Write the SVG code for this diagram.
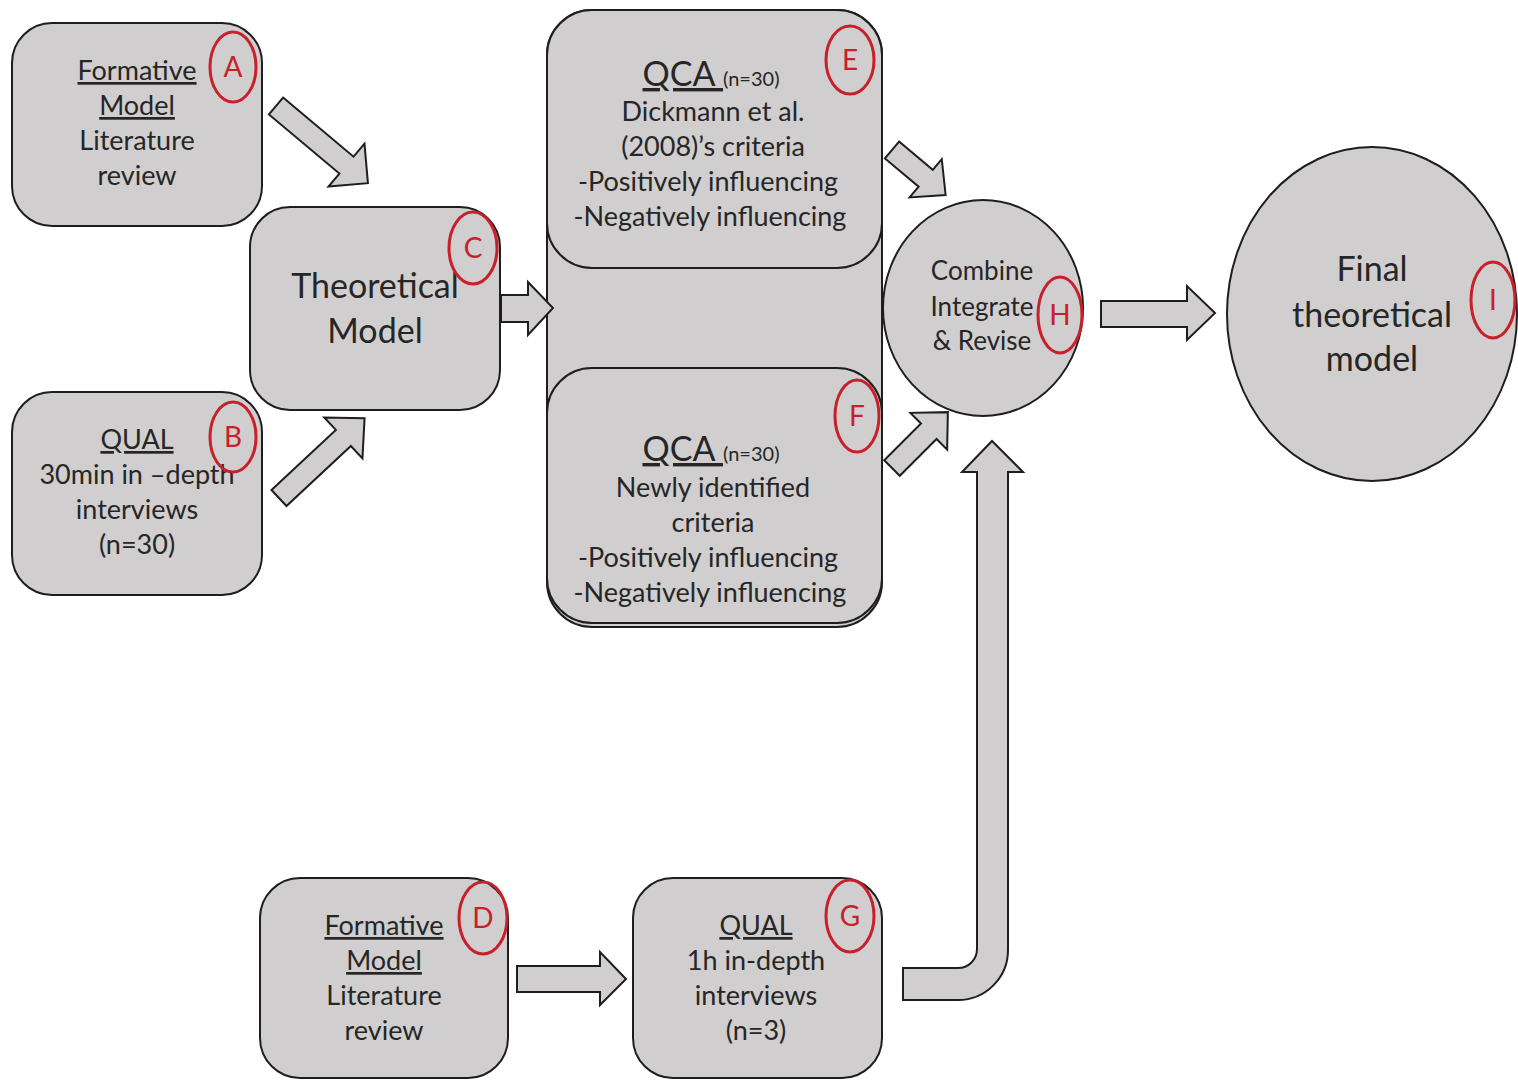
<svg xmlns="http://www.w3.org/2000/svg" width="1518" height="1080" viewBox="0 0 1518 1080">
<style>
.box{fill:#d0cece;stroke:#1e1e1e;stroke-width:2}
.arr{fill:#d0cece;stroke:#1e1e1e;stroke-width:2;stroke-linejoin:miter}
.lbl{fill:none;stroke:#c8202a;stroke-width:3}
.ltr{fill:#c8202a;font-family:Lato,"Liberation Sans",sans-serif;font-size:28px;text-anchor:middle}
.t{fill:#262626;font-family:Lato,"Liberation Sans",sans-serif;font-size:27px;text-anchor:middle}
.big{font-size:34px}
.sm{font-size:20px}
.u{text-decoration:underline}
</style>
<rect width="1518" height="1080" fill="#ffffff"/>
<g id="node-A">
<rect class="box" x="12" y="23" width="250" height="203" rx="40"/>
<text class="t"><tspan class="u" x="137" y="80">Formative</tspan><tspan class="u" x="137" y="115">Model</tspan><tspan x="137" y="150">Literature</tspan><tspan x="137" y="185">review</tspan></text>
<ellipse class="lbl" cx="233" cy="67" rx="23" ry="35"/><text class="ltr" x="233" y="77">A</text>
</g>
<g id="node-B">
<rect class="box" x="12" y="392" width="250" height="203" rx="40"/>
<text class="t"><tspan class="u" x="137" y="449">QUAL</tspan><tspan x="137" y="484">30min in –depth</tspan><tspan x="137" y="519">interviews</tspan><tspan x="137" y="554">(n=30)</tspan></text>
<ellipse class="lbl" cx="233" cy="437" rx="23" ry="35"/><text class="ltr" x="233" y="447">B</text>
</g>
<g id="node-C">
<rect class="box" x="250" y="207" width="250" height="203" rx="40"/>
<text class="t big"><tspan x="375" y="298">Theoretical</tspan><tspan x="375" y="343">Model</tspan></text>
<ellipse class="lbl" cx="473" cy="248" rx="24" ry="36"/><text class="ltr" x="473" y="258">C</text>
</g>
<g id="node-EF-frame">
<rect class="box" x="547" y="10" width="335" height="617" rx="45"/>
</g>
<g id="node-E">
<rect class="box" x="547" y="10" width="335" height="258" rx="45"/>
<text class="t" xml:space="preserve" x="711" y="86"><tspan class="big u">QCA </tspan><tspan class="sm">(n=30)</tspan></text>
<text class="t"><tspan x="713" y="121">Dickmann et al.</tspan><tspan x="713" y="156">(2008)’s criteria</tspan><tspan x="708" y="191">-Positively influencing</tspan><tspan x="710" y="226">-Negatively influencing</tspan></text>
<ellipse class="lbl" cx="850" cy="60" rx="24" ry="34"/><text class="ltr" x="850" y="70">E</text>
</g>
<g id="node-F">
<rect class="box" x="547" y="368" width="335" height="255" rx="45"/>
<text class="t" xml:space="preserve" x="711" y="461"><tspan class="big u">QCA </tspan><tspan class="sm">(n=30)</tspan></text>
<text class="t"><tspan x="713" y="497">Newly identified</tspan><tspan x="713" y="532">criteria</tspan><tspan x="708" y="567">-Positively influencing</tspan><tspan x="710" y="602">-Negatively influencing</tspan></text>
<ellipse class="lbl" cx="857" cy="416" rx="22" ry="36"/><text class="ltr" x="857" y="426">F</text>
</g>
<g id="node-H">
<ellipse class="box" cx="983" cy="308" rx="100" ry="108"/>
<text class="t" style="font-size:26px"><tspan x="982" y="280">Combine</tspan><tspan x="982" y="316">Integrate</tspan><tspan x="982" y="350">&amp; Revise</tspan></text>
<ellipse class="lbl" cx="1060" cy="315" rx="22" ry="38"/><text class="ltr" x="1060" y="325">H</text>
</g>
<g id="node-I">
<ellipse class="box" cx="1372" cy="314" rx="145" ry="167"/>
<text class="t big"><tspan x="1372" y="281">Final</tspan><tspan x="1372" y="327">theoretical</tspan><tspan x="1372" y="371">model</tspan></text>
<ellipse class="lbl" cx="1493" cy="300" rx="22" ry="38"/><text class="ltr" x="1493" y="310">I</text>
</g>
<g id="node-D">
<rect class="box" x="260" y="878" width="248" height="200" rx="40"/>
<text class="t"><tspan class="u" x="384" y="935">Formative</tspan><tspan class="u" x="384" y="970">Model</tspan><tspan x="384" y="1005">Literature</tspan><tspan x="384" y="1040">review</tspan></text>
<ellipse class="lbl" cx="483" cy="918" rx="24" ry="36"/><text class="ltr" x="483" y="928">D</text>
</g>
<g id="node-G">
<rect class="box" x="633" y="878" width="249" height="200" rx="40"/>
<text class="t"><tspan class="u" x="756" y="935">QUAL</tspan><tspan x="756" y="970">1h in-depth</tspan><tspan x="756" y="1005">interviews</tspan><tspan x="756" y="1040">(n=3)</tspan></text>
<ellipse class="lbl" cx="850" cy="916" rx="24" ry="36"/><text class="ltr" x="850" y="926">G</text>
</g>
<g id="connectors">
<polygon class="arr" transform="translate(276,106) rotate(40)" points="0,-11 92,-11 92,-28 120,0 92,28 92,11 0,11"/>
<polygon class="arr" transform="translate(279,498) rotate(-43)" points="0,-11 88,-11 88,-28 117,0 88,28 88,11 0,11"/>
<polygon class="arr" points="501,295 528,295 528,282 553,308 528,335 528,322 501,322"/>
<polygon class="arr" transform="translate(892,150) rotate(40)" points="0,-11 44,-11 44,-25 70,0 44,25 44,11 0,11"/>
<polygon class="arr" transform="translate(892,468) rotate(-45)" points="0,-11 52,-11 52,-26 79,0 52,26 52,11 0,11"/>
<polygon class="arr" points="1101,301 1187,301 1187,286 1215,313 1187,340 1187,327 1101,327"/>
<polygon class="arr" points="517,966 600,966 600,952 626,979 600,1005 600,992 517,992"/>
<path class="arr" d="M903,968 L958,968 A19,19 0 0 0 977,949 L977,472 L962,472 L992,441 L1023,472 L1008,472 L1008,950 A50,50 0 0 1 958,1000 L903,1000 Z"/>
</g>
</svg>
